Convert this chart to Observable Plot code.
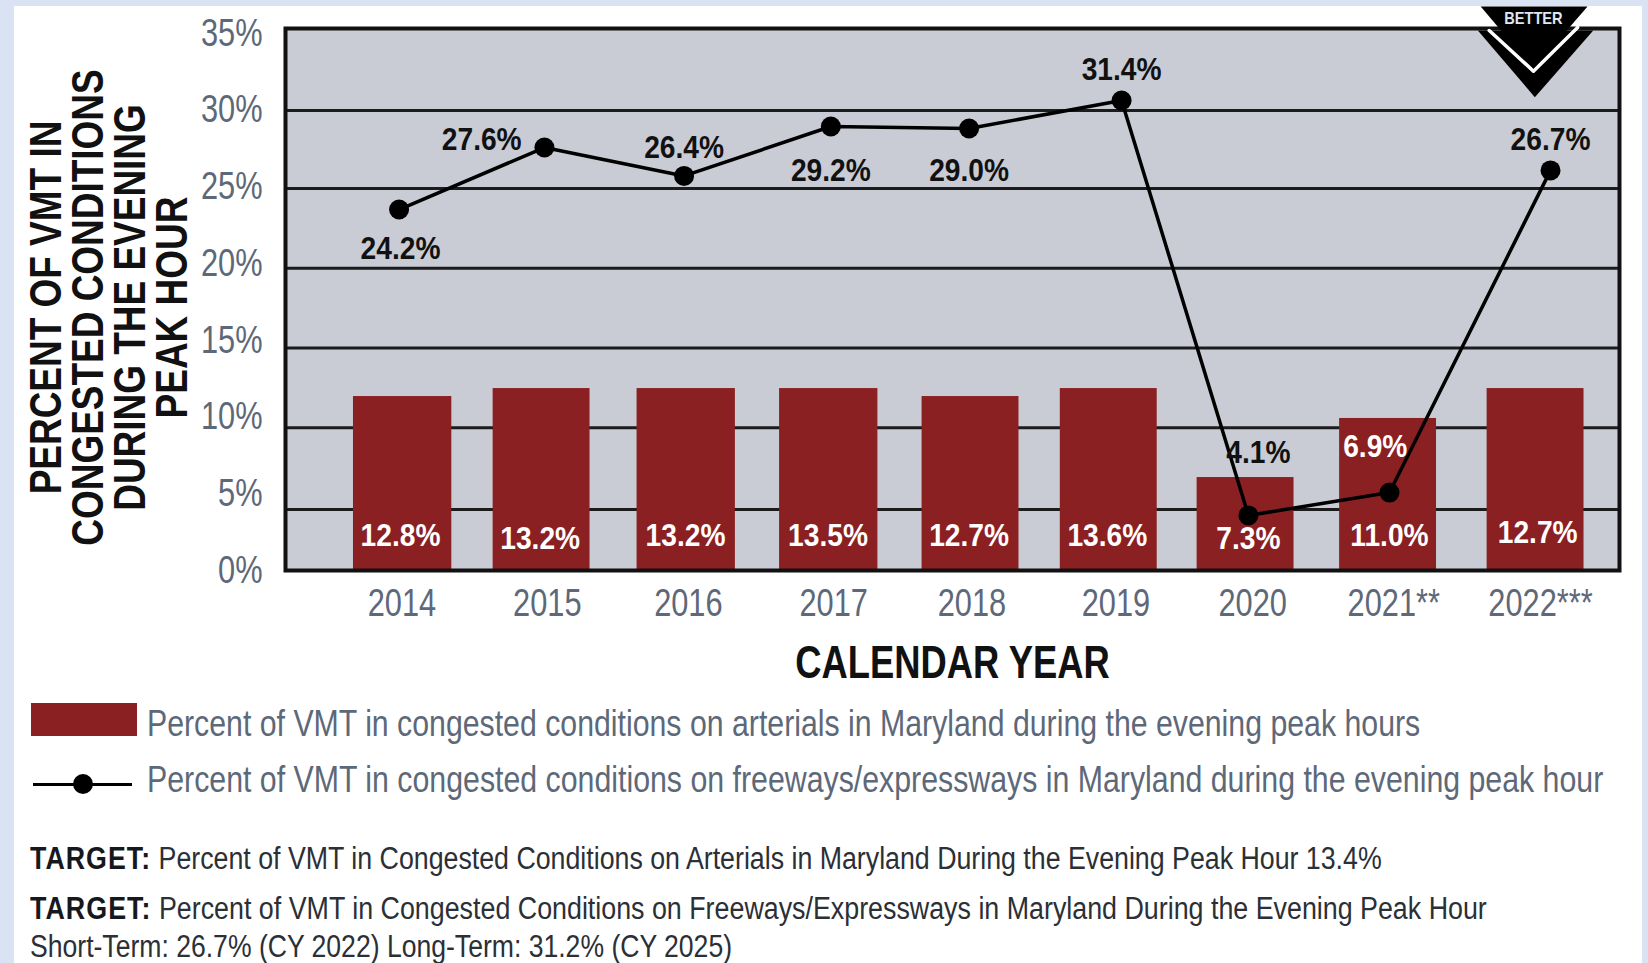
<!DOCTYPE html>
<html>
<head>
<meta charset="utf-8">
<script src="https://cdn.jsdelivr.net/npm/d3@7"></script>
<script src="https://cdn.jsdelivr.net/npm/@observablehq/plot@0.6"></script>
<style>
html,body{margin:0;padding:0;width:1648px;height:963px;overflow:hidden;background:#d9e3f3;}
#panel{position:absolute;left:14px;top:6px;width:1628px;height:957px;background:#fff;}
#chart{position:absolute;left:0;top:0;}
.t{position:absolute;white-space:nowrap;font-family:"Liberation Sans",sans-serif;transform-origin:0 50%;}
.lg{font-size:36px;color:#5d6878;left:147px;}
.tg{font-size:31px;color:#2b2f36;left:30px;}
.tg b{color:#15181d;letter-spacing:1.2px;}
</style>
</head>
<body>
<div id="panel"></div>
<div id="chart"></div>
<div style="position:absolute;left:30.5px;top:703px;width:106px;height:33px;background:#8b2023"></div>
<div style="position:absolute;left:33px;top:782.5px;width:99px;height:3.5px;background:#000"></div>
<div style="position:absolute;left:73px;top:774px;width:20px;height:20px;border-radius:50%;background:#000"></div>
<div class="t lg" data-w="1273" style="top:703px">Percent of VMT in congested conditions on arterials in Maryland during the evening peak hours</div>
<div class="t lg" data-w="1456" style="top:759px">Percent of VMT in congested conditions on freeways/expressways in Maryland during the evening peak hour</div>
<div class="t tg" data-w="1352" style="top:841px"><b>TARGET:</b> Percent of VMT in Congested Conditions on Arterials in Maryland During the Evening Peak Hour 13.4%</div>
<div class="t tg" data-w="1457" style="top:891px"><b>TARGET:</b> Percent of VMT in Congested Conditions on Freeways/Expressways in Maryland During the Evening Peak Hour</div>
<div class="t tg" data-w="702" style="top:929px">Short-Term: 26.7% (CY 2022) Long-Term: 31.2% (CY 2025)</div>
<script>
const years = [2014, 2015, 2016, 2017, 2018, 2019, 2020, 2021, 2022];
const yearTickX = [2014.01, 2015.03, 2016.02, 2017.04, 2018.01, 2019.02, 2019.98, 2020.97, 2022.0];
const yearLabels = ["2014", "2015", "2016", "2017", "2018", "2019", "2020", "2021**", "2022***"];
const yTicks = [0, 5, 10, 15, 20, 25, 30, 35];
const gridValues = [3.98, 9.3, 14.5, 19.7, 24.9, 29.98];

const barStart = [2013.67, 2014.65, 2015.66, 2016.66, 2017.66, 2018.63, 2019.59, 2020.59, 2021.625];
const barEnd = [2014.36, 2015.33, 2016.35, 2017.35, 2018.34, 2019.31, 2020.27, 2021.27, 2022.305];
const barHeight = [11.34, 11.86, 11.86, 11.86, 11.34, 11.86, 6.06, 9.91, 11.86];
const barLabels = ["12.8%", "13.2%", "13.2%", "13.5%", "12.7%", "13.6%", "7.3%", "11.0%", "12.7%"];
const barLabelX = [2014.0, 2014.98, 2016.0, 2017.0, 2017.99, 2018.96, 2019.95, 2020.94, 2021.98];
const barLabelY = [2.28, 2.09, 2.28, 2.28, 2.28, 2.28, 2.09, 2.28, 2.48];

const lineX = [2013.99, 2015.01, 2015.99, 2017.02, 2017.99, 2019.06, 2019.95, 2020.94, 2022.07];
const lineY = [23.53, 27.57, 25.72, 28.94, 28.81, 30.64, 3.59, 5.08, 26.08];
const lineLabels = ["24.2%", "27.6%", "26.4%", "29.2%", "29.0%", "31.4%", "4.1%", "6.9%", "26.7%"];
const lineLabelX = [2014.0, 2014.57, 2015.99, 2017.02, 2017.99, 2019.06, 2020.02, 2020.84, 2022.07];
const lineLabelY = [20.99, 28.10, 27.57, 26.08, 26.08, 32.66, 7.69, 8.08, 28.10];
const lineLabelColor = ["#111", "#111", "#111", "#111", "#111", "#111", "#111", "#fff", "#111"];

const chevronX = [2021.56, 2021.96, 2022.37];
const chevronY = [35.2, 30.85, 35.2];
const stripeX = [2021.64, 2021.95, 2022.26];
const stripeY = [35.2, 32.55, 35.4];
const capX = [2021.58, 2021.95, 2022.33];
const capY = [36.77, 32.7, 36.77];

const idx = years.map((d, i) => i);
const font = '"Liberation Sans",sans-serif';

const chart = Plot.plot({
  width: 1648,
  height: 680,
  marginLeft: 285,
  marginRight: 29,
  marginTop: 28,
  marginBottom: 110,
  style: {background: "transparent", fontFamily: font, overflow: "visible"},
  x: {domain: [2013.193, 2022.554], axis: null},
  y: {domain: [0, 35.33], axis: null},
  marks: [
    Plot.frame({fill: "#c9ccd5", stroke: null}),
    Plot.ruleY(gridValues, {stroke: "#1c1c1c", strokeWidth: 3}),
    Plot.rectY(idx, {
      x1: i => barStart[i], x2: i => barEnd[i], y1: 0, y2: i => barHeight[i],
      fill: "#8b2023"
    }),
    Plot.frame({stroke: "#111", strokeWidth: 4}),
    Plot.axisY({
      ticks: yTicks, tickFormat: d => d + "%", tickSize: 0, tickPadding: 23, label: null,
      fontSize: 38, color: "#5d6878", fontFamily: font
    }),
    Plot.axisX({
      ticks: yearTickX, tickFormat: d => yearLabels[yearTickX.indexOf(d)], tickSize: 0, tickPadding: 19, label: null,
      fontSize: 38, color: "#5d6878", fontFamily: font
    }),
    Plot.line(idx, {x: i => lineX[i], y: i => lineY[i], stroke: "#000", strokeWidth: 3.5}),
    Plot.dot(idx, {x: i => lineX[i], y: i => lineY[i], r: 10, fill: "#000"}),
    Plot.text(idx, {
      x: i => barLabelX[i], y: i => barLabelY[i], text: i => barLabels[i],
      fill: "#fff", fontSize: 32, fontWeight: 700, fontFamily: font
    }),
    Plot.text(idx, {
      x: i => lineLabelX[i], y: i => lineLabelY[i], text: i => lineLabels[i],
      fill: i => lineLabelColor[i], fontSize: 32, fontWeight: 700, fontFamily: font
    }),
    Plot.text(["PERCENT OF VMT IN\nCONGESTED CONDITIONS\nDURING THE EVENING\nPEAK HOUR"], {
      frameAnchor: "left", dx: -175, dy: 8, rotate: -90, lineHeight: 0.95,
      fill: "#111", fontSize: 44, fontWeight: 700, fontFamily: font, textAnchor: "middle"
    }),
    Plot.text(["CALENDAR YEAR"], {
      frameAnchor: "bottom", dy: 107,
      fill: "#111", fontSize: 46, fontWeight: 700, fontFamily: font
    }),
    Plot.line(chevronX.map((d, i) => i), {
      x: i => chevronX[i], y: i => chevronY[i], fill: "#000", stroke: null
    }),
    Plot.line(stripeX.map((d, i) => i), {
      x: i => stripeX[i], y: i => stripeY[i], stroke: "#fff", strokeWidth: 3.5, fill: "none"
    }),
    Plot.line(capX.map((d, i) => i), {
      x: i => capX[i], y: i => capY[i], fill: "#000", stroke: null
    }),
    Plot.text(["BETTER"], {
      x: [2021.95], y: [36.0], fill: "#dfe6f2", fontSize: 17, fontWeight: 700, fontFamily: font
    })
  ]
});
document.getElementById("chart").appendChild(chart);

// Liberation Sans is condensed to the reference's narrow face
const squeeze = {38: 0.81, 32: 0.88, 44: 0.84, 46: 0.79, 17: 0.86};
chart.querySelectorAll("text").forEach(t => {
  const k = squeeze[parseFloat(getComputedStyle(t).fontSize)];
  if (!k) return;
  const parts = t.querySelectorAll("tspan");
  (parts.length ? [...parts] : [t]).forEach(p => {
    const len = p.getComputedTextLength();
    p.setAttribute("textLength", len * k);
    p.setAttribute("lengthAdjust", "spacingAndGlyphs");
  });
});
document.querySelectorAll(".t").forEach(el => {
  el.style.transform = `scaleX(${+el.dataset.w / el.offsetWidth})`;
});
</script>
</body>
</html>
